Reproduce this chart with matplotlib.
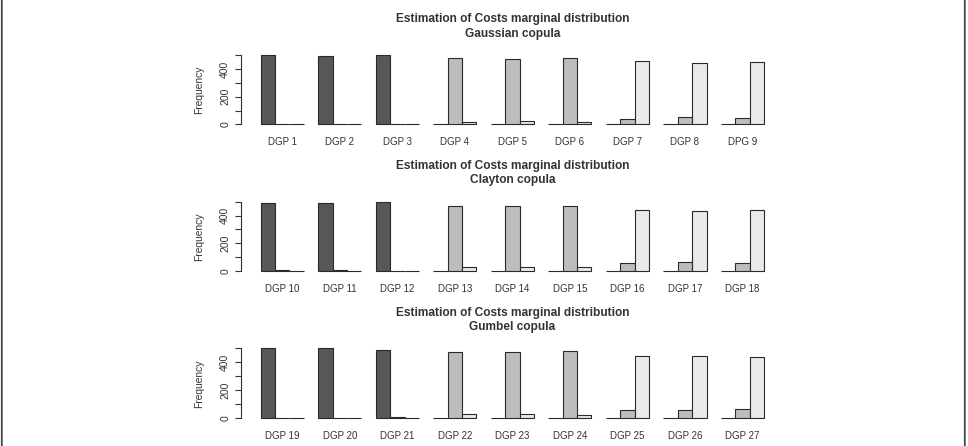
import matplotlib
matplotlib.use("Agg")
import matplotlib.pyplot as plt
from matplotlib.patches import FancyBboxPatch
import numpy as np

plt.rcParams['font.family'] = ['Liberation Sans', 'DejaVu Sans']

# ---------------- data ----------------
labels_gauss = ["DGP 1", "DGP 2", "DGP 3", "DGP 4", "DGP 5", "DGP 6", "DGP 7", "DGP 8", "DPG 9"]
labels_clay = ["DGP 10", "DGP 11", "DGP 12", "DGP 13", "DGP 14", "DGP 15", "DGP 16", "DGP 17", "DGP 18"]
labels_gumb = ["DGP 19", "DGP 20", "DGP 21", "DGP 22", "DGP 23", "DGP 24", "DGP 25", "DGP 26", "DGP 27"]

gauss_dark = [500, 494, 500, 0, 0, 0, 0, 0, 0]
gauss_mid = [0, 6, 0, 480, 473, 480, 40, 54, 47]
gauss_light = [0, 0, 0, 20, 27, 20, 460, 446, 453]

clay_dark = [493, 494, 500, 0, 0, 0, 0, 0, 0]
clay_mid = [7, 6, 0, 472, 472, 472, 60, 67, 60]
clay_light = [0, 0, 0, 28, 28, 28, 440, 433, 440]

gumb_dark = [500, 500, 492, 0, 0, 0, 0, 0, 0]
gumb_mid = [0, 0, 8, 474, 474, 481, 53, 53, 65]
gumb_light = [0, 0, 0, 26, 26, 19, 447, 447, 435]

title_main = "Estimation of Costs marginal distribution"
subtitles = ["Gaussian copula", "Clayton copula", "Gumbel copula"]
y_ticks = [0, 100, 200, 300, 400, 500]
y_ticklabels = ["0", "", "200", "", "400", ""]

panels = [
    (labels_gauss, gauss_dark, gauss_mid, gauss_light),
    (labels_clay, clay_dark, clay_mid, clay_light),
    (labels_gumb, gumb_dark, gumb_mid, gumb_light),
]

colors = ["#575757", "#bdbdbd", "#e9e9e9"]
edge = "#2a2a2a"
textc = "#333333"

W, H = 968, 446
fig = plt.figure(figsize=(W / 100, H / 100), dpi=100)

ax_left_px, ax_right_px = 240.6, 784.2
tops_px = [52.4, 199.0, 345.7]
ax_h_px = 75.5

for (labels, dark, mid, light), top, sub in zip(panels, tops_px, subtitles):
    ax = fig.add_axes([ax_left_px / W, 1 - (top + ax_h_px) / H,
                       (ax_right_px - ax_left_px) / W, ax_h_px / H])
    n = len(labels)
    g = np.arange(n)
    for k, series in enumerate([dark, mid, light]):
        ax.bar(1 + g * 4 + k, series, width=1, align='edge',
               color=colors[k], edgecolor=edge, linewidth=0.8)
    ax.set_xlim(-0.4, 37.4)
    ax.set_ylim(-25.2, 520.2)
    for s in ['top', 'right', 'bottom']:
        ax.spines[s].set_visible(False)
    ax.spines['left'].set_bounds(0, 500)
    ax.spines['left'].set_color(textc)
    ax.spines['left'].set_linewidth(0.8)
    ax.set_yticks(y_ticks)
    ax.set_yticklabels(y_ticklabels, rotation=90, va='center')
    ax.tick_params(axis='y', length=4.3, width=0.8, color=textc, labelcolor=textc,
                   labelsize=7.5, pad=3.2)
    ax.set_xticks(1 + g * 4 + 1.5)
    ax.set_xticklabels(labels)
    ax.tick_params(axis='x', length=0, labelcolor=textc, labelsize=7, pad=6.8)
    ax.set_ylabel("Frequency", color=textc, fontsize=7.4)
    ax.yaxis.set_label_coords(-0.067, 0.5)
    cx = (ax_left_px + ax_right_px) / 2 / W
    fig.text(cx, 1 - (top - 33.1) / H, title_main, ha='center', va='center',
             fontsize=8.6, fontweight='bold', color=textc)
    fig.text(cx, 1 - (top - 18.7) / H, sub, ha='center', va='center',
             fontsize=8.6, fontweight='bold', color=textc)

border = FancyBboxPatch((0.018, -0.2), 9.63, 4.76,
                        boxstyle="round,pad=0,rounding_size=0.08",
                        transform=fig.dpi_scale_trans, facecolor='none',
                        edgecolor='#444444', linewidth=1.3)
fig.patches.append(border)

fig.savefig("out.png", dpi=100)
